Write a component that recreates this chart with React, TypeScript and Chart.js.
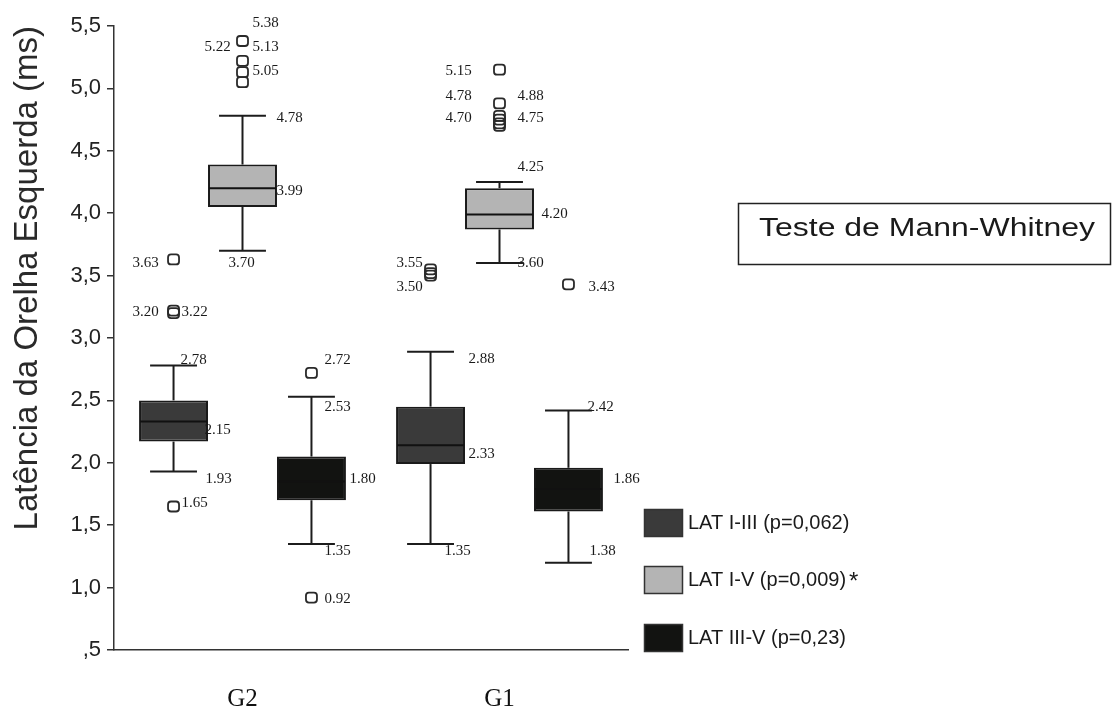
import React, { useEffect, useRef } from "react";
import { Chart, registerables } from "chart.js";

Chart.register(...registerables);

// ---- Data ----
const GROUPS = ["G2", "G1"];
const SERIES_LABELS = ["LAT I-III (p=0,062)", "LAT I-V (p=0,009)", "LAT III-V (p=0,23)"];
const SERIES_MARKS = ["", "*", ""];
const SERIES_COLORS = ["#3a3a3a", "#b4b4b4", "#121311"];

const LAT_I_III_MIN = [1.93, 1.35];
const LAT_I_III_Q1 = [2.17, 1.99];
const LAT_I_III_MEDIAN = [2.33, 2.14];
const LAT_I_III_Q3 = [2.5, 2.45];
const LAT_I_III_MAX = [2.78, 2.89];
const LAT_I_III_OUTLIERS = [
  [3.63, 3.22, 3.2, 1.65],
  [3.55, 3.52, 3.5],
];

const LAT_I_V_MIN = [3.7, 3.6];
const LAT_I_V_Q1 = [4.05, 3.87];
const LAT_I_V_MEDIAN = [4.2, 3.99];
const LAT_I_V_Q3 = [4.39, 4.2];
const LAT_I_V_MAX = [4.78, 4.25];
const LAT_I_V_OUTLIERS = [
  [5.38, 5.22, 5.13, 5.05],
  [5.15, 4.88, 4.78, 4.75, 4.72, 4.7],
];

const LAT_III_V_MIN = [1.35, 1.2];
const LAT_III_V_Q1 = [1.7, 1.61];
const LAT_III_V_MEDIAN = [1.85, 1.79];
const LAT_III_V_Q3 = [2.05, 1.96];
const LAT_III_V_MAX = [2.53, 2.42];
const LAT_III_V_OUTLIERS = [[2.72, 0.92], [3.43]];

const Y_TICKS = [0.5, 1, 1.5, 2, 2.5, 3, 3.5, 4, 4.5, 5, 5.5];
const Y_TICK_LABELS = [",5", "1,0", "1,5", "2,0", "2,5", "3,0", "3,5", "4,0", "4,5", "5,0", "5,5"];

const Y_TITLE = "Latência da Orelha Esquerda (ms)";
const TEST_NOTE = "Teste de Mann-Whitney";

// value annotations: series index s, group index g, anchor value y, horizontal offset from box centre
const VALUE_LABELS = [
  { t: "5.38", s: 1, g: 0, y: 5.52, dx: 10 },
  { t: "5.22", s: 1, g: 0, y: 5.33, dx: -38 },
  { t: "5.13", s: 1, g: 0, y: 5.33, dx: 10 },
  { t: "5.05", s: 1, g: 0, y: 5.14, dx: 10 },
  { t: "4.78", s: 1, g: 0, y: 4.76, dx: 34 },
  { t: "3.99", s: 1, g: 0, y: 4.18, dx: 34 },
  { t: "3.70", s: 1, g: 0, y: 3.6, dx: -14 },
  { t: "3.63", s: 0, g: 0, y: 3.6, dx: -41 },
  { t: "3.20", s: 0, g: 0, y: 3.21, dx: -41 },
  { t: "3.22", s: 0, g: 0, y: 3.21, dx: 8 },
  { t: "2.78", s: 0, g: 0, y: 2.82, dx: 7 },
  { t: "2.15", s: 0, g: 0, y: 2.26, dx: 31 },
  { t: "1.93", s: 0, g: 0, y: 1.87, dx: 32 },
  { t: "1.65", s: 0, g: 0, y: 1.68, dx: 8 },
  { t: "2.72", s: 2, g: 0, y: 2.82, dx: 13 },
  { t: "2.53", s: 2, g: 0, y: 2.45, dx: 13 },
  { t: "1.80", s: 2, g: 0, y: 1.87, dx: 38 },
  { t: "1.35", s: 2, g: 0, y: 1.29, dx: 13 },
  { t: "0.92", s: 2, g: 0, y: 0.91, dx: 13 },
  { t: "5.15", s: 1, g: 1, y: 5.14, dx: -54 },
  { t: "4.78", s: 1, g: 1, y: 4.94, dx: -54 },
  { t: "4.88", s: 1, g: 1, y: 4.94, dx: 18 },
  { t: "4.70", s: 1, g: 1, y: 4.76, dx: -54 },
  { t: "4.75", s: 1, g: 1, y: 4.76, dx: 18 },
  { t: "4.25", s: 1, g: 1, y: 4.37, dx: 18 },
  { t: "4.20", s: 1, g: 1, y: 3.99, dx: 42 },
  { t: "3.60", s: 1, g: 1, y: 3.6, dx: 18 },
  { t: "3.55", s: 0, g: 1, y: 3.6, dx: -34 },
  { t: "3.50", s: 0, g: 1, y: 3.41, dx: -34 },
  { t: "2.88", s: 0, g: 1, y: 2.83, dx: 38 },
  { t: "2.33", s: 0, g: 1, y: 2.07, dx: 38 },
  { t: "1.35", s: 0, g: 1, y: 1.29, dx: 14 },
  { t: "3.43", s: 2, g: 1, y: 3.41, dx: 20 },
  { t: "2.42", s: 2, g: 1, y: 2.45, dx: 19 },
  { t: "1.86", s: 2, g: 1, y: 1.87, dx: 45 },
  { t: "1.38", s: 2, g: 1, y: 1.29, dx: 21 },
];

const SERIES = [
  { min: LAT_I_III_MIN, q1: LAT_I_III_Q1, med: LAT_I_III_MEDIAN, q3: LAT_I_III_Q3, max: LAT_I_III_MAX, out: LAT_I_III_OUTLIERS },
  { min: LAT_I_V_MIN, q1: LAT_I_V_Q1, med: LAT_I_V_MEDIAN, q3: LAT_I_V_Q3, max: LAT_I_V_MAX, out: LAT_I_V_OUTLIERS },
  { min: LAT_III_V_MIN, q1: LAT_III_V_Q1, med: LAT_III_V_MEDIAN, q3: LAT_III_V_Q3, max: LAT_III_V_MAX, out: LAT_III_V_OUTLIERS },
];

function line(ctx: CanvasRenderingContext2D, x1: number, y1: number, x2: number, y2: number) {
  ctx.beginPath();
  ctx.moveTo(x1, y1);
  ctx.lineTo(x2, y2);
  ctx.stroke();
}

const boxPlugin = {
  id: "boxExtras",
  afterDatasetsDraw(chart: any) {
    const ctx: CanvasRenderingContext2D = chart.ctx;
    const ys = chart.scales.y;
    const centres: { x: number; w: number }[][] = [];
    ctx.save();
    SERIES.forEach((s, si) => {
      const meta = chart.getDatasetMeta(si);
      centres[si] = [];
      meta.data.forEach((bar: any, gi: number) => {
        const { x, width } = bar.getProps(["x", "width"], true);
        centres[si][gi] = { x, w: width };
        const cap = (width * 0.68) / 2;
        ctx.strokeStyle = "#1c1c1c";
        ctx.lineWidth = 2;
        // whiskers
        line(ctx, x, ys.getPixelForValue(s.q3[gi]), x, ys.getPixelForValue(s.max[gi]));
        line(ctx, x - cap, ys.getPixelForValue(s.max[gi]), x + cap, ys.getPixelForValue(s.max[gi]));
        line(ctx, x, ys.getPixelForValue(s.q1[gi]), x, ys.getPixelForValue(s.min[gi]));
        line(ctx, x - cap, ys.getPixelForValue(s.min[gi]), x + cap, ys.getPixelForValue(s.min[gi]));
        // median
        ctx.strokeStyle = "#111";
        line(ctx, x - width / 2 + 1, ys.getPixelForValue(s.med[gi]), x + width / 2 - 1, ys.getPixelForValue(s.med[gi]));
        // outliers
        ctx.strokeStyle = "#2a2a2a";
        ctx.lineWidth = 1.8;
        s.out[gi].forEach((v) => {
          const py = ys.getPixelForValue(v);
          ctx.beginPath();
          (ctx as any).roundRect(x - 5.5, py - 5, 11, 10, 3);
          ctx.stroke();
        });
      });
    });
    // value labels
    ctx.fillStyle = "#1a1a1a";
    ctx.font = '15px "Liberation Serif"';
    ctx.textAlign = "left";
    ctx.textBaseline = "middle";
    VALUE_LABELS.forEach((l) => {
      const c = centres[l.s][l.g];
      ctx.fillText(l.t, c.x + l.dx, ys.getPixelForValue(l.y));
    });
    ctx.restore();
  },
  afterDraw(chart: any) {
    const ctx: CanvasRenderingContext2D = chart.ctx;
    ctx.save();
    // legend
    const rows = [523, 580, 638];
    SERIES_LABELS.forEach((lab, i) => {
      const cy = rows[i];
      ctx.fillStyle = SERIES_COLORS[i];
      ctx.fillRect(644, cy - 14, 39, 28);
      ctx.strokeStyle = "#333";
      ctx.lineWidth = 1.5;
      ctx.strokeRect(644.5, cy - 13.5, 38, 27);
      ctx.fillStyle = "#1a1a1a";
      ctx.font = '20px "Liberation Sans"';
      ctx.textAlign = "left";
      ctx.textBaseline = "middle";
      ctx.fillText(lab, 688, cy);
      if (SERIES_MARKS[i]) {
        const w = ctx.measureText(lab).width;
        ctx.font = '24px "Liberation Sans"';
        ctx.fillText(SERIES_MARKS[i], 688 + w + 3, cy + 2);
      }
    });
    // test note box
    ctx.strokeStyle = "#222";
    ctx.lineWidth = 1.5;
    ctx.strokeRect(738.5, 203.5, 372, 61);
    ctx.fillStyle = "#1a1a1a";
    ctx.font = '25px "Liberation Sans"';
    ctx.textAlign = "left";
    ctx.textBaseline = "alphabetic";
    const w = ctx.measureText(TEST_NOTE).width;
    ctx.translate(759, 236);
    ctx.scale(336 / w, 1);
    ctx.fillText(TEST_NOTE, 0, 0);
    ctx.restore();
  },
};

export default function App() {
  const ref = useRef<HTMLCanvasElement | null>(null);
  useEffect(() => {
    if (!ref.current) return;
    const chart = new Chart(ref.current, {
      type: "bar",
      data: {
        labels: GROUPS,
        datasets: SERIES.map((s, i) => ({
          label: SERIES_LABELS[i],
          data: GROUPS.map((_, g) => [s.q1[g], s.q3[g]]),
          backgroundColor: SERIES_COLORS[i],
          borderColor: "#1a1a1a",
          borderWidth: 2,
          borderSkipped: false,
          barPercentage: 1,
          categoryPercentage: 0.805,
        })),
      } as any,
      options: {
        responsive: false,
        animation: false,
        layout: { padding: { left: 0, top: 26, right: 485, bottom: 0 } },
        plugins: {
          legend: { display: false },
          tooltip: { enabled: false },
          title: { display: false },
        },
        scales: {
          x: {
            type: "category",
            offset: true,
            grid: { display: true, drawOnChartArea: false, drawTicks: false },
            border: { display: true, color: "#333", width: 1.5 },
            ticks: { font: { family: '"Liberation Serif"', size: 25 }, color: "#111", padding: 34 },
            afterFit(scale: any) {
              scale.height = 62;
            },
          },
          y: {
            min: 0.5,
            max: 5.5,
            ticks: {
              stepSize: 0.5,
              font: { family: '"Liberation Sans"', size: 22 },
              color: "#222",
              padding: 6,
              callback: (v: any) => {
                const i = Y_TICKS.findIndex((t) => Math.abs(t - Number(v)) < 1e-6);
                return i >= 0 ? Y_TICK_LABELS[i] : "";
              },
            },
            grid: { drawOnChartArea: false, drawTicks: true, tickLength: 7, color: "#333", lineWidth: 1.5 },
            border: { display: true, color: "#333", width: 1.5 },
            title: {
              display: true,
              text: Y_TITLE,
              align: "end",
              color: "#2a2a2a",
              font: { family: '"Liberation Sans"', size: 33 },
              padding: { top: 8, bottom: 0 },
            },
            afterFit(scale: any) {
              scale.width = 114;
            },
          },
        },
      } as any,
      plugins: [boxPlugin],
    });
    return () => chart.destroy();
  }, []);
  return (
    <div style={{ position: "fixed", left: 0, top: 0, width: 1113, height: 712, background: "#fff" }}>
      <canvas ref={ref} width={1113} height={712} style={{ display: "block" }} />
    </div>
  );
}
